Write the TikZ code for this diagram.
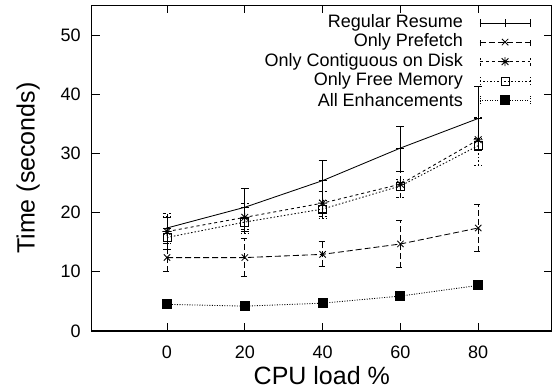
\documentclass[tikz,border=0pt]{standalone}
\usepackage{fontspec}
\setmainfont{Liberation Sans}
\usetikzlibrary{plotmarks}

% eight-spoke star mark (plus and cross together)
\pgfdeclareplotmark{gpstar}{%
  \pgfpathmoveto{\pgfqpoint{-\pgfplotmarksize}{0pt}}%
  \pgfpathlineto{\pgfqpoint{\pgfplotmarksize}{0pt}}%
  \pgfpathmoveto{\pgfqpoint{0pt}{-\pgfplotmarksize}}%
  \pgfpathlineto{\pgfqpoint{0pt}{\pgfplotmarksize}}%
  \pgfpathmoveto{\pgfqpoint{-.75\pgfplotmarksize}{-.75\pgfplotmarksize}}%
  \pgfpathlineto{\pgfqpoint{.75\pgfplotmarksize}{.75\pgfplotmarksize}}%
  \pgfpathmoveto{\pgfqpoint{-.75\pgfplotmarksize}{.75\pgfplotmarksize}}%
  \pgfpathlineto{\pgfqpoint{.75\pgfplotmarksize}{-.75\pgfplotmarksize}}%
  \pgfusepathqstroke}

% vertical error bar with caps: style, x, low, high
\newcommand\errbar[4]{%
  \draw[#1] (#2,#3) ++(-4pt,0) -- ++(8pt,0) (#2,#3) -- (#2,#4) ++(-4pt,0) -- ++(8pt,0);}

% one key entry: style, mark, row y
\newcommand\keysample[3]{%
  \draw[#1] (80.46,#3) -- (93.3,#3);
  \draw[#1] (80.46,#3) ++(0,-4pt) -- ++(0,8pt);
  \draw[#1] (93.3,#3) ++(0,-4pt) -- ++(0,8pt);
  \draw[#1] plot[only marks, mark=#2, mark options={solid}] coordinates {(86.9,#3)};}

\begin{document}
\begin{tikzpicture}[x=3.89pt, y=5.92pt,
  frame/.style={line width=1.1pt},
  tickmark/.style={line width=0.8pt},
  regular/.style={line width=0.85pt, mark size=4pt},
  prefetch/.style={line width=0.85pt, dash pattern=on 6pt off 3pt, mark size=4.5pt},
  contig/.style={line width=0.85pt, dash pattern=on 3pt off 3pt, mark size=4.5pt},
  freemem/.style={line width=0.85pt, dash pattern=on 1.5pt off 2pt, mark size=4pt},
  allenh/.style={line width=0.85pt, dash pattern=on 1pt off 1.5pt, mark size=4.5pt},
  ticklabel/.style={font=\fontsize{18}{20}\selectfont, inner sep=0pt},
  keylabel/.style={font=\fontsize{18}{20}\selectfont, inner sep=0pt, anchor=east},
  axislabel/.style={font=\fontsize{25}{28}\selectfont, inner sep=0pt},
]
\useasboundingbox (-167pt,-58pt) rectangle (387pt,331pt);

% plot frame
\draw[frame] (-19.3,0) rectangle (98.9,55.0);

% y ticks (mirrored) and labels
\foreach \v in {0,10,...,50} {
  \draw[tickmark] (-19.3,\v) -- ++(8pt,0);
  \draw[tickmark] (98.9,\v) -- ++(-8pt,0);
  \node[ticklabel, anchor=east] (ylab\v) at ([xshift=-11pt]-19.3,\v) {\v};
}
% x ticks (mirrored) and labels
\foreach \v in {0,20,...,80} {
  \draw[tickmark] (\v,0) -- ++(0,8pt);
  \draw[tickmark] (\v,55.0) -- ++(0,-8pt);
  \node[ticklabel] (xlab\v) at ([yshift=-21pt]\v,0) {\v};
}

\node[axislabel] (xtitle) at (39.8,-7.45) {CPU load \%};
\node[axislabel, rotate=90] (ytitle) at (-35.7,27.5) {Time (seconds)};

% Regular Resume
\draw[regular] plot coordinates {(0,17.4) (20,20.9) (40,25.4) (60,30.9) (80,35.9)};
\errbar{regular}{0}{13.7}{19.2}
\errbar{regular}{20}{16.8}{24.0}
\errbar{regular}{40}{20.0}{28.8}
\errbar{regular}{60}{27.0}{34.6}
\errbar{regular}{80}{30.5}{41.3}
\draw[regular] plot[only marks, mark=+] coordinates {(0,17.4) (20,20.9) (40,25.4) (60,30.9) (80,35.9)};

% Only Prefetch
\draw[prefetch] plot coordinates {(0,12.4) (20,12.4) (40,12.95) (60,14.7) (80,17.4)};
\errbar{prefetch}{0}{10.0}{14.8}
\errbar{prefetch}{20}{9.2}{15.6}
\errbar{prefetch}{40}{10.9}{15.1}
\errbar{prefetch}{60}{10.7}{18.7}
\errbar{prefetch}{80}{13.4}{21.3}
\draw[prefetch] plot[only marks, mark=x, mark options={solid}] coordinates {(0,12.4) (20,12.4) (40,12.95) (60,14.7) (80,17.4)};

% Only Contiguous on Disk
\draw[contig] plot coordinates {(0,16.8) (20,19.2) (40,21.6) (60,24.8) (80,32.3)};
\errbar{contig}{0}{15.2}{19.8}
\errbar{contig}{20}{17.1}{21.6}
\errbar{contig}{40}{19.3}{23.5}
\errbar{contig}{60}{22.6}{26.9}
\errbar{contig}{80}{30.5}{36.1}
\draw[contig] plot[only marks, mark=gpstar, mark options={solid}] coordinates {(0,16.8) (20,19.2) (40,21.6) (60,24.8) (80,32.3)};

% Only Free Memory
\draw[freemem] plot coordinates {(0,15.8) (20,18.4) (40,20.6) (60,24.5) (80,31.3)};
\errbar{freemem}{0}{14.8}{19.3}
\errbar{freemem}{20}{16.5}{20.8}
\errbar{freemem}{40}{19.0}{22.1}
\errbar{freemem}{60}{22.5}{25.6}
\errbar{freemem}{80}{28.0}{32.5}
\draw[freemem] plot[only marks, mark=square, mark options={solid}] coordinates {(0,15.8) (20,18.4) (40,20.6) (60,24.5) (80,31.3)};

% All Enhancements
\draw[allenh] plot coordinates {(0,4.5) (20,4.2) (40,4.7) (60,5.9) (80,7.7)};
\draw[allenh] plot[only marks, mark=square*, mark options={solid}] coordinates {(0,4.5) (20,4.2) (40,4.7) (60,5.9) (80,7.7)};

% key
\node[keylabel] (k1) at (76.1,52.0) {Regular Resume};
\node[keylabel] (k2) at (76.1,48.8) {Only Prefetch};
\node[keylabel] (k3) at (76.1,45.5) {Only Contiguous on Disk};
\node[keylabel] (k4) at (76.1,42.2) {Only Free Memory};
\node[keylabel] (k5) at (76.1,39.0) {All Enhancements};
\keysample{regular}{+}{52.0}
\keysample{prefetch}{x}{48.8}
\keysample{contig}{gpstar}{45.5}
\keysample{freemem}{square}{42.2}
\keysample{allenh}{square*}{39.0}
\end{tikzpicture}
\end{document}
